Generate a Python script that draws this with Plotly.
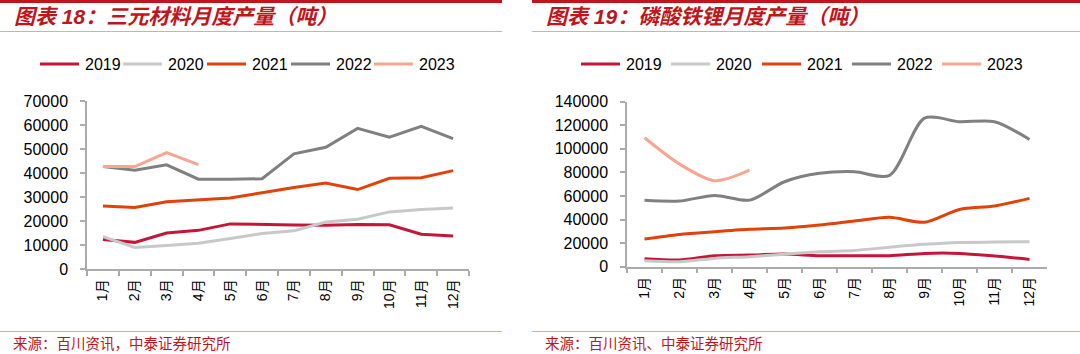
import plotly.graph_objects as go

months = ["1月", "2月", "3月", "4月", "5月", "6月", "7月", "8月", "9月", "10月", "11月", "12月"]
years = ["2019", "2020", "2021", "2022", "2023"]
colors = ["#C5163A", "#C8C8C8", "#E2420A", "#808080", "#F9A590"]

# 三元材料月度产量（吨）
ncm_2019 = [12300, 11100, 15000, 16100, 18800, 18400, 18300, 18200, 18500, 18400, 14500, 13800]
ncm_2020 = [13500, 9000, 9800, 10700, 12700, 14800, 15900, 19600, 20700, 23800, 24800, 25400]
ncm_2021 = [26200, 25600, 28000, 28800, 29600, 31800, 34000, 35800, 33100, 37800, 38000, 41000]
ncm_2022 = [42700, 41200, 43400, 37400, 37400, 37600, 48000, 50700, 58600, 54900, 59400, 54300]
ncm_2023 = [42700, 42700, 48500, 43500]

# 磷酸铁锂月度产量（吨）
lfp_2019 = [6800, 5700, 9300, 9900, 10700, 9300, 9300, 9300, 11300, 11300, 9000, 6200]
lfp_2020 = [5100, 4200, 7000, 8500, 10500, 12700, 13800, 16500, 19000, 20600, 20900, 21200]
lfp_2021 = [23500, 27400, 29700, 31700, 32800, 35300, 38700, 41900, 37800, 48600, 51500, 58000]
lfp_2022 = [56300, 55700, 60500, 56500, 72100, 79200, 80600, 77500, 126000, 123000, 123000, 108000]
lfp_2023 = [109400, 87100, 73000, 82000]

ncm = [ncm_2019, ncm_2020, ncm_2021, ncm_2022, ncm_2023]
lfp = [lfp_2019, lfp_2020, lfp_2021, lfp_2022, lfp_2023]

W, H = 1080, 354
def px(x):
    return x / W
def py(y):
    return (H - y) / H

fig = go.Figure()
for i, y in enumerate(years):
    fig.add_trace(go.Scatter(x=months[:len(ncm[i])], y=ncm[i], mode="lines", name=y,
                             line=dict(color=colors[i], width=3), xaxis="x", yaxis="y"))
for i, y in enumerate(years):
    fig.add_trace(go.Scatter(x=months[:len(lfp[i])], y=lfp[i], mode="lines", name=y,
                             line=dict(color=colors[i], width=3, shape="spline", smoothing=0.8),
                             xaxis="x2", yaxis="y2"))

axis_col = "#ABABAB"
tick_font = dict(family="Liberation Sans, Arial, Noto Sans CJK SC", size=16, color="#000000")
xtick_font = dict(family="Liberation Sans, Arial, Noto Sans CJK SC", size=14, color="#000000")

def xaxis(dom, anchor):
    return dict(domain=dom, anchor=anchor, type="category", categoryorder="array",
                categoryarray=months, range=[-0.5, 11.5], showgrid=False, zeroline=False,
                showline=True, linecolor=axis_col, linewidth=1.5, ticks="outside",
                ticklen=5, tickcolor=axis_col, tickwidth=1.5, tickson="boundaries",
                tickangle=-90, tickfont=xtick_font, fixedrange=True, automargin=False,
                ticklabelstandoff=3)

def yaxis(dom, anchor, rng, dtick):
    return dict(domain=dom, anchor=anchor, range=rng, dtick=dtick, showgrid=False,
                zeroline=False, showline=True, linecolor=axis_col, linewidth=1.5,
                ticks="outside", ticklen=5, tickcolor=axis_col, tickwidth=1.5,
                tickfont=tick_font, tickformat="d", fixedrange=True, automargin=False,
                ticklabelstandoff=9)

fig.update_layout(
    width=W, height=H,
    margin=dict(l=0, r=0, t=0, b=0, autoexpand=False),
    paper_bgcolor="white", plot_bgcolor="white",
    xaxis=xaxis([px(87), px(469)], "y"),
    yaxis=yaxis([py(269), py(101)], "x", [0, 70000], 10000),
    xaxis2=xaxis([px(627), px(1047)], "y2"),
    yaxis2=yaxis([py(266.7), py(101.7)], "x2", [0, 140000], 20000),
    showlegend=False,
)

red = "#C0151B"
light = "#EBA3A3"
shapes = []
for x0, x1 in [(0, 502), (532, 1080)]:
    shapes.append(dict(type="line", xref="paper", yref="paper", x0=px(x0), x1=px(x1),
                       y0=py(1.5), y1=py(1.5), line=dict(color=red, width=3)))
    shapes.append(dict(type="line", xref="paper", yref="paper", x0=px(x0), x1=px(x1),
                       y0=py(31.5), y1=py(31.5), line=dict(color=light, width=1)))
    shapes.append(dict(type="line", xref="paper", yref="paper", x0=px(x0), x1=px(x1),
                       y0=py(331.5), y1=py(331.5), line=dict(color=light, width=1)))

# legends (drawn as key lines + labels)
leg_font = dict(family="Liberation Sans, Arial", size=16, color="#000000")
leg_y = 64
for starts in ([40, 123, 207, 291, 374], [581, 671, 762, 852, 942]):
    for i, yr in enumerate(years):
        x0 = starts[i]
        shapes.append(dict(type="line", xref="paper", yref="paper", x0=px(x0), x1=px(x0 + 39),
                           y0=py(leg_y), y1=py(leg_y), line=dict(color=colors[i], width=3)))
        fig.add_annotation(text=yr, xref="paper", yref="paper", x=px(x0 + 43), y=py(leg_y),
                           xanchor="left", yanchor="middle", showarrow=False, font=leg_font)
fig.update_layout(shapes=shapes)

title_font = dict(family="Liberation Sans, Noto Sans CJK SC", size=21, color=red, style="italic", weight="bold")
src_font = dict(family="Noto Sans CJK SC", size=14.5, color=red)
fig.add_annotation(text="图表 18：三元材料月度产量（吨）", xref="paper", yref="paper",
                   x=px(12), y=py(17), xanchor="left", yanchor="middle", showarrow=False, font=title_font)
fig.add_annotation(text="图表 19：磷酸铁锂月度产量（吨）", xref="paper", yref="paper",
                   x=px(544), y=py(17), xanchor="left", yanchor="middle", showarrow=False, font=title_font)
fig.add_annotation(text="来源：百川资讯，中泰证券研究所", xref="paper", yref="paper",
                   x=px(11), y=py(342), xanchor="left", yanchor="middle", showarrow=False, font=src_font)
fig.add_annotation(text="来源：百川资讯、中泰证券研究所", xref="paper", yref="paper",
                   x=px(543), y=py(342), xanchor="left", yanchor="middle", showarrow=False, font=src_font)

fig.write_html("out.html")
